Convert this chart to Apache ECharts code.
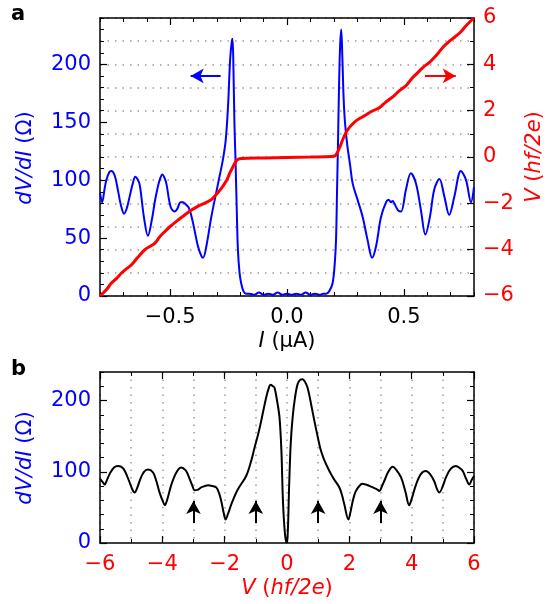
<!DOCTYPE html>
<html><head><meta charset="utf-8">
<script src="https://cdn.jsdelivr.net/npm/echarts@6/dist/echarts.min.js"></script>
<style>html,body{margin:0;padding:0;background:#fff}#c{width:551px;height:604px}</style>
</head><body><div id="c"></div>
<script>
// ---- Panel a: dV/dI (blue) vs I ----
const blueI = [-0.800,-0.791,-0.780,-0.773,-0.760,-0.752,-0.737,-0.723,-0.710,-0.697,-0.685,-0.673,-0.660,-0.649,-0.640,-0.630,-0.612,-0.595,-0.578,-0.565,-0.555,-0.545,-0.533,-0.524,-0.516,-0.498,-0.481,-0.470,-0.455,-0.445,-0.438,-0.420,-0.402,-0.381,-0.365,-0.359,-0.345,-0.324,-0.295,-0.274,-0.262,-0.252,-0.243,-0.236,-0.233,-0.229,-0.225,-0.220,-0.215,-0.210,-0.203,-0.196,-0.186,-0.175,
  -0.160,-0.140,-0.120,-0.100,-0.080,-0.060,-0.040,-0.020,0.000,0.020,0.040,0.060,0.080,0.100,0.120,0.140,0.155,
  0.167,0.180,0.195,0.205,0.210,0.214,0.218,0.222,0.227,0.232,0.237,0.242,0.248,0.258,0.270,0.281,0.302,0.324,0.345,0.364,0.381,0.402,0.424,0.435,0.445,0.452,0.459,0.475,0.488,0.509,0.530,0.552,0.573,0.592,0.612,0.630,0.652,0.673,0.694,0.716,0.744,0.766,0.787,0.800];
const blueR = [89,81,93,100,107,108,104,91,78,71,76,86,97,103,101,96,68,52,66,82,92,100,105,102,97,77,73,75,81,81,80,76,63,43,34,33,43,68,97,118,135,165,205,220,222,195,150,115,75,40,20,11,4,2,
  2,1,3,1,2,1,3,1,2,1,2,1,3,1,2,1,2,
  2,4,11,30,50,90,130,175,215,230,205,172,150,130,113,97,83,68,48,33,43,68,81,83,81,82,80,74,73,92,106,97,74,53,69,92,101,86,70,86,108,100,81,94];

// ---- Panel a: V (red) vs I ----
const redI = [-0.800,-0.770,-0.752,-0.730,-0.709,-0.690,-0.666,-0.640,-0.609,-0.585,-0.566,-0.545,-0.523,-0.500,-0.466,-0.435,-0.409,-0.380,-0.350,-0.324,-0.301,-0.281,-0.258,-0.245,-0.230,-0.218,-0.210,-0.195,-0.100,0.000,0.100,0.190,0.205,0.213,0.225,0.241,0.255,0.270,0.290,0.312,0.335,0.355,0.380,0.398,0.420,0.455,0.480,0.512,0.535,0.555,0.580,0.612,0.640,0.669,0.695,0.719,0.745,0.769,0.800];
const redV = [-6.0,-5.7,-5.45,-5.25,-5.02,-4.85,-4.66,-4.35,-4.01,-3.85,-3.73,-3.45,-3.22,-3.0,-2.72,-2.48,-2.29,-2.12,-1.98,-1.84,-1.60,-1.35,-1.0,-0.70,-0.40,-0.18,-0.10,-0.06,-0.04,-0.02,0.0,0.02,0.05,0.15,0.40,0.81,1.10,1.31,1.52,1.67,1.80,1.93,2.05,2.15,2.35,2.62,2.85,3.11,3.40,3.60,3.85,4.11,4.40,4.76,5.0,5.19,5.42,5.70,6.0];

// ---- Panel b: dV/dI (black) vs V ----
const blackV = [-6.00,-5.90,-5.85,-5.78,-5.69,-5.55,-5.42,-5.26,-5.15,-5.05,-4.95,-4.89,-4.80,-4.73,-4.60,-4.46,-4.30,-4.20,-4.09,-3.98,-3.92,-3.85,-3.71,-3.55,-3.39,-3.25,-3.18,-3.05,-2.96,-2.85,-2.75,-2.53,-2.40,-2.27,-2.18,-2.11,-2.03,-1.97,-1.90,-1.79,-1.58,-1.31,-1.15,-1.04,-0.93,-0.83,-0.67,-0.58,-0.53,-0.45,-0.40,-0.32,-0.24,-0.18,-0.13,-0.07,-0.02,
  0.02,0.07,0.12,0.18,0.26,0.34,0.42,0.50,0.58,0.66,0.75,0.88,1.04,1.10,1.20,1.36,1.50,1.68,1.76,1.84,1.97,2.03,2.11,2.20,2.32,2.42,2.53,2.65,2.75,2.90,2.96,3.05,3.12,3.25,3.39,3.50,3.66,3.80,3.92,4.00,4.14,4.30,4.46,4.60,4.72,4.82,4.89,5.00,5.10,5.25,5.42,5.55,5.64,5.75,5.85,5.92,6.00];
const blackR = [90,84.6,82,88,97,106,108,105,96,85,74,71,78,87,99,103,99,88,71,58,53,60,82,99,106,102,96,82,74,75,78,81,80,78,70,59,42,33,40,54,75,94,115,134,152,171,204,218,222,220,218,200,176,130,59,15,1,
  10,82,140,176,205,223,229,230,226,218,200,171,138,128,116,101,90,78,68,54,33,42,59,72,80,83,82,80,78,75,73,80,87,100,107,103,92,72,53,62,82,97,101,96,87,75,71,80,92,104,108,105,101,90,82,88,94];

// ---- Annotations (data coordinates) ----
const arrowBlueR = 190, arrowBlueFrom = -0.284, arrowBlueTo = -0.412;
const arrowRedV = 3.5, arrowRedFrom = 0.590, arrowRedTo = 0.722;
const arrowsBV = [-3, -1, 1, 3], arrowsBFrom = 28, arrowsBTo = 59;

// ---- Tick values ----
const aXMajor = [-0.5, 0, 0.5];
const aYMajor = [0, 50, 100, 150, 200];
const bYMajor = [0, 100, 200];

const pairs = (xs, ys) => xs.map((x, i) => [x, ys[i]]);
const FONT = 'DejaVu Sans';
const FS = 21;
const minus = s => s.replace('-', '\u2212');
const isMult = (v, s) => Math.abs(v / s - Math.round(v / s)) < 1e-6;
const dotted = { color: '#9a9a9a', width: 1.5, type: [1.5, 6] };
const spine = { show: true, onZero: false, lineStyle: { color: '#000', width: 1.5 } };
const noLine = { show: false, onZero: false };

function ax(o) { return Object.assign({ type: 'value', splitLine: { show: false } }, o); }

const xAxis = [
  ax({ gridIndex: 0, position: 'bottom', min: -0.8, max: 0.8, interval: 0.1, axisLine: spine,
       axisTick: { inside: true, length: 4, lineStyle: { color: '#000', width: 1 } },
       axisLabel: { color: '#000', fontFamily: FONT, fontSize: FS, margin: 11,
         formatter: v => isMult(v, 0.5) ? minus(Math.abs(v) < 1e-9 ? '0.0' : v.toFixed(1)) : '' } }),
  ax({ gridIndex: 0, position: 'top', min: -0.8, max: 0.8, interval: 0.1, axisLine: spine,
       axisTick: { inside: true, length: 4, lineStyle: { color: '#000', width: 1 } }, axisLabel: { show: false } }),
  ax({ gridIndex: 0, position: 'bottom', min: -0.8, max: 0.8, axisLine: noLine,
       axisTick: { inside: true, length: 7, customValues: aXMajor, lineStyle: { color: '#000', width: 1.2 } }, axisLabel: { show: false } }),
  ax({ gridIndex: 0, position: 'top', min: -0.8, max: 0.8, axisLine: noLine,
       axisTick: { inside: true, length: 7, customValues: aXMajor, lineStyle: { color: '#000', width: 1.2 } }, axisLabel: { show: false } }),
  ax({ gridIndex: 1, position: 'bottom', min: -6, max: 6, interval: 2, axisLine: spine,
       axisTick: { inside: true, length: 7, lineStyle: { color: '#000', width: 1.2 } },
       minorTick: { show: true, splitNumber: 2, length: 4, lineStyle: { color: '#000', width: 1 } },
       splitLine: { show: true, lineStyle: dotted }, minorSplitLine: { show: true, lineStyle: dotted },
       axisLabel: { color: '#ff0000', fontFamily: FONT, fontSize: FS, margin: 11, formatter: v => minus(String(v)) } }),
  ax({ gridIndex: 1, position: 'top', min: -6, max: 6, interval: 2, axisLine: spine,
       axisTick: { inside: true, length: 7, lineStyle: { color: '#000', width: 1.2 } },
       minorTick: { show: true, splitNumber: 2, length: 4, lineStyle: { color: '#000', width: 1 } },
       axisLabel: { show: false } })
];

const yAxis = [
  ax({ gridIndex: 0, position: 'left', min: 0, max: 240, interval: 10, axisLine: spine,
       axisTick: { inside: true, length: 4, lineStyle: { color: '#000', width: 1 } },
       axisLabel: { color: '#0000ff', fontFamily: FONT, fontSize: FS, margin: 9,
         formatter: v => (isMult(v, 50) && v <= 200) ? String(v) : '' } }),
  ax({ gridIndex: 0, position: 'left', min: 0, max: 240, axisLine: noLine,
       axisTick: { inside: true, length: 7, customValues: aYMajor, lineStyle: { color: '#000', width: 1.2 } }, axisLabel: { show: false } }),
  ax({ gridIndex: 0, position: 'right', min: -6, max: 6, interval: 2, axisLine: spine,
       axisTick: { inside: true, length: 7, lineStyle: { color: '#000', width: 1.2 } },
       minorTick: { show: true, splitNumber: 2, length: 4, lineStyle: { color: '#000', width: 1 } },
       splitLine: { show: true, lineStyle: dotted }, minorSplitLine: { show: true, lineStyle: dotted },
       axisLabel: { color: '#ff0000', fontFamily: FONT, fontSize: FS, margin: 9, formatter: v => minus(String(v)) } }),
  ax({ gridIndex: 1, position: 'left', min: 0, max: 240, interval: 20, axisLine: spine,
       axisTick: { inside: true, length: 4, lineStyle: { color: '#000', width: 1 } },
       axisLabel: { color: '#0000ff', fontFamily: FONT, fontSize: FS, margin: 9,
         formatter: v => (isMult(v, 100)) ? String(v) : '' } }),
  ax({ gridIndex: 1, position: 'right', min: 0, max: 240, interval: 20, axisLine: spine,
       axisTick: { inside: true, length: 4, lineStyle: { color: '#000', width: 1 } }, axisLabel: { show: false } }),
  ax({ gridIndex: 1, position: 'left', min: 0, max: 240, axisLine: noLine,
       axisTick: { inside: true, length: 7, customValues: bYMajor, lineStyle: { color: '#000', width: 1.2 } }, axisLabel: { show: false } }),
  ax({ gridIndex: 1, position: 'right', min: 0, max: 240, axisLine: noLine,
       axisTick: { inside: true, length: 7, customValues: bYMajor, lineStyle: { color: '#000', width: 1.2 } }, axisLabel: { show: false } })
];

function arrowLine(color, from, to) {
  return { silent: true, symbol: ['none', 'arrow'], symbolSize: [11, 13], label: { show: false },
           lineStyle: { color: color, width: 2, type: 'solid' }, emphasis: { disabled: true },
           data: [[{ coord: from }, { coord: to }]] };
}

const rich = {
  i: { fontStyle: 'italic', fontFamily: FONT, fontSize: FS },
  n: { fontFamily: FONT, fontSize: FS }
};
function label(x, y, text, color, rot) {
  return { type: 'text', x: x, y: y, rotation: rot || 0,
           style: { text: text, fill: color, align: 'center', verticalAlign: 'middle', font: FS + 'px "' + FONT + '"',
                    rich: JSON.parse(JSON.stringify(rich)) } };
}

const option = {
  animation: false,
  backgroundColor: '#fff',
  grid: [
    { left: 100, top: 18, width: 374, height: 278 },
    { left: 100, top: 372, width: 374, height: 171 }
  ],
  xAxis: xAxis,
  yAxis: yAxis,
  series: [
    { type: 'line', xAxisIndex: 0, yAxisIndex: 0, data: pairs(blueI, blueR), showSymbol: false, smooth: 0.35,
      lineStyle: { color: '#0000ff', width: 2 }, z: 3,
      markLine: arrowLine('#0000ff', [arrowBlueFrom, arrowBlueR], [arrowBlueTo, arrowBlueR]) },
    { type: 'line', xAxisIndex: 0, yAxisIndex: 2, data: pairs(redI, redV), showSymbol: false, smooth: 0.35,
      lineStyle: { color: '#ff0000', width: 3 }, z: 4,
      markLine: arrowLine('#ff0000', [arrowRedFrom, arrowRedV], [arrowRedTo, arrowRedV]) },
    { type: 'line', xAxisIndex: 4, yAxisIndex: 3, data: pairs(blackV, blackR), showSymbol: false, smooth: 0.35,
      lineStyle: { color: '#000', width: 2 }, z: 3,
      markLine: { silent: true, symbol: ['none', 'arrow'], symbolSize: [11, 13], label: { show: false },
        lineStyle: { color: '#000', width: 2, type: 'solid' },
        data: arrowsBV.map(v => [{ coord: [v, arrowsBFrom] }, { coord: [v, arrowsBTo] }]) } }
  ],
  graphic: [
    { type: 'text', x: 11, y: 25, style: { text: 'a', fill: '#000', font: 'bold 21px "' + FONT + '"', verticalAlign: 'bottom' } },
    { type: 'text', x: 11, y: 380, style: { text: 'b', fill: '#000', font: 'bold 21px "' + FONT + '"', verticalAlign: 'bottom' } },
    label(26, 158, '{i|dV/dI}{n| (Ω)}', '#0000ff', Math.PI / 2),
    label(535, 157, '{i|V}{n| (}{i|hf/2e}{n|)}', '#ff0000', Math.PI / 2),
    label(287, 342, '{i|I}{n| (µA)}', '#000', 0),
    label(26, 458, '{i|dV/dI}{n| (Ω)}', '#0000ff', Math.PI / 2),
    label(287, 589, '{i|V}{n| (}{i|hf/2e}{n|)}', '#ff0000', 0)
  ]
};

const chart = echarts.init(document.getElementById('c'), null, { renderer: 'canvas' });
chart.setOption(option);
</script>
</body></html>
